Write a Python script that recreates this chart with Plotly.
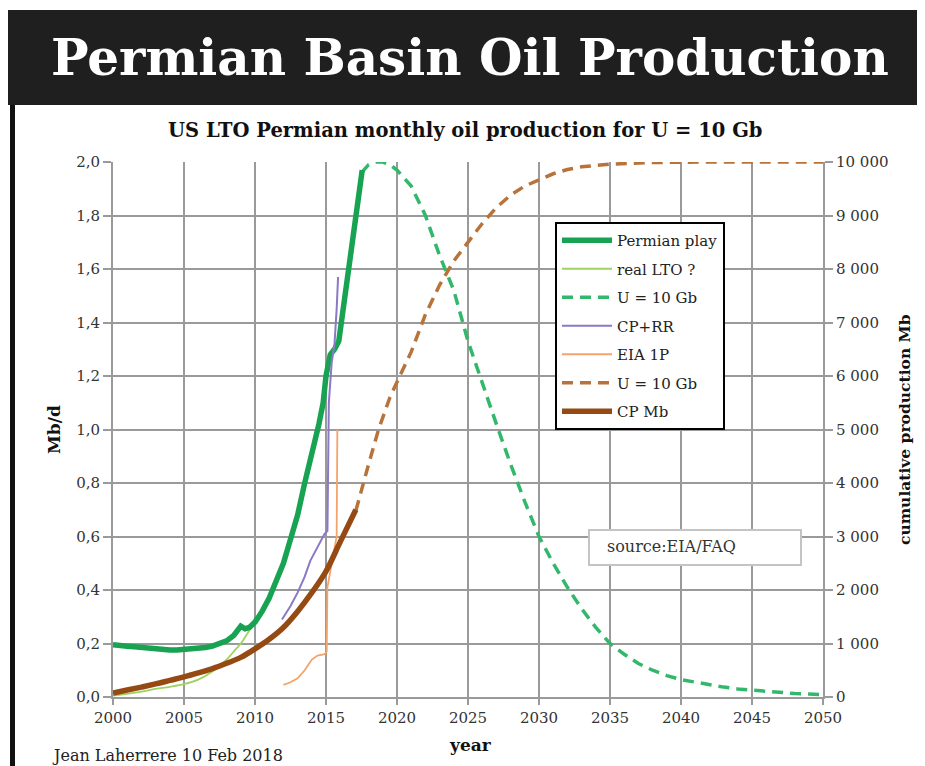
import plotly.graph_objects as go

# ---------------- data ----------------
permian_years = [2000.0, 2000.5, 2001.0, 2001.5, 2002.0, 2002.5, 2003.0, 2003.5, 2004.0, 2004.5,
                 2005.0, 2005.5, 2006.0, 2006.5, 2007.0, 2007.5, 2008.0, 2008.5, 2008.8, 2009.0,
                 2009.3, 2009.6, 2010.0, 2010.5, 2011.0, 2011.5, 2012.0, 2012.5, 2013.0, 2013.5,
                 2014.0, 2014.5, 2014.8, 2015.0, 2015.3, 2015.6, 2015.9, 2016.2, 2016.5, 2016.8,
                 2017.0, 2017.2, 2017.4, 2017.55]
permian_mbd = [0.195, 0.19, 0.19, 0.188, 0.185, 0.183, 0.18, 0.178, 0.176, 0.176,
               0.177, 0.178, 0.182, 0.185, 0.19, 0.2, 0.21, 0.23, 0.25, 0.265,
               0.255, 0.26, 0.28, 0.32, 0.37, 0.43, 0.5, 0.59, 0.68, 0.8,
               0.9, 1.02, 1.1, 1.2, 1.28, 1.3, 1.33, 1.45, 1.56, 1.66,
               1.75, 1.83, 1.9, 1.97]

lto_years = [2000, 2001, 2002, 2003, 2004, 2005, 2006, 2007, 2008, 2008.5, 2009, 2009.5, 2010, 2010.3]
lto_mbd = [0.005, 0.012, 0.02, 0.03, 0.038, 0.048, 0.065, 0.095, 0.14, 0.17, 0.2, 0.24, 0.28, 0.3]

model_years = [2017.5, 2018.0, 2018.5, 2019.0, 2019.5, 2020, 2021, 2022, 2023, 2024, 2025, 2026,
               2027, 2028, 2029, 2030, 2031, 2032, 2033, 2034, 2035, 2036, 2037, 2038, 2039,
               2040, 2041, 2042, 2043, 2044, 2045, 2046, 2047, 2048, 2049, 2050]
model_mbd = [1.96, 1.99, 2.0, 2.0, 1.99, 1.97, 1.91, 1.8, 1.65, 1.52, 1.33, 1.17,
             1.02, 0.87, 0.73, 0.6, 0.5, 0.41, 0.33, 0.26, 0.2, 0.16, 0.125, 0.1, 0.08,
             0.065, 0.055, 0.045, 0.037, 0.03, 0.025, 0.02, 0.016, 0.013, 0.011, 0.009]

cprr_years = [2011.9, 2012.5, 2013.0, 2013.5, 2013.9, 2014.4, 2014.9, 2015.1, 2015.2, 2015.4, 2015.6, 2015.75, 2015.85]
cprr_mbd = [0.29, 0.34, 0.39, 0.45, 0.51, 0.56, 0.61, 0.62, 1.1, 1.25, 1.32, 1.45, 1.57]

eia_years = [2012.0, 2012.5, 2013.0, 2013.5, 2014.0, 2014.4, 2014.9, 2015.05, 2015.1, 2015.75, 2015.8]
eia_mbd = [0.045, 0.055, 0.07, 0.1, 0.14, 0.155, 0.16, 0.17, 0.41, 0.6, 1.0]

cum_model_years = [2017.1, 2017.6, 2018.0, 2018.7, 2019.5, 2020.2, 2021.0, 2022.0, 2023.0, 2024.0,
                   2025.0, 2026.0, 2027.0, 2028.0, 2029.0, 2030.0, 2031.0, 2032.0, 2033.0, 2035.0,
                   2038.0, 2042.0, 2050.0]
cum_model_mb = [3480, 4000, 4350, 5000, 5600, 6000, 6450, 7150, 7700, 8150,
                8500, 8850, 9150, 9380, 9550, 9670, 9780, 9860, 9910, 9960,
                9990, 10000, 10000]

cp_years = [2000, 2001, 2002, 2003, 2004, 2005, 2006, 2007, 2008, 2009, 2010, 2011, 2012,
            2013, 2014, 2015, 2016, 2017.1]
cp_mb = [75, 130, 185, 245, 310, 375, 450, 530, 630, 740, 900, 1080, 1300,
         1600, 1950, 2350, 2900, 3500]

x_ticks = [2000, 2005, 2010, 2015, 2020, 2025, 2030, 2035, 2040, 2045, 2050]

# ---------------- layout geometry ----------------
# The page body has an 8px margin, so the figure is drawn 8px smaller and
# everything placed relative to the plot area (reference pixel coordinates).
OFF = 8
W, H = 925 - OFF, 766 - OFF
L, R, T, B = 113, 823, 162, 697   # plot area in reference pixels


def px(x):
    return (x - L) / (R - L)


def py(y):
    return (B - y) / (B - T)


SERIF = "DejaVu Serif"

fig = go.Figure()

DASH = "11px,7px"

fig.add_trace(go.Scatter(x=model_years, y=model_mbd, mode="lines", name="U = 10 Gb",
                         line=dict(color="#33b86b", width=3.5, dash=DASH),
                         legendgroup="g3", legendrank=3))
fig.add_trace(go.Scatter(x=cum_model_years, y=cum_model_mb, mode="lines", name="U = 10 Gb",
                         yaxis="y2", line=dict(color="#b8733a", width=3.5, dash=DASH),
                         legendgroup="g6", legendrank=6))
fig.add_trace(go.Scatter(x=cp_years, y=cp_mb, mode="lines", name="CP Mb", yaxis="y2",
                         line=dict(color="#954a14", width=5.5, shape="spline"),
                         legendgroup="g7", legendrank=7))
fig.add_trace(go.Scatter(x=lto_years, y=lto_mbd, mode="lines", name="real LTO ?",
                         line=dict(color="#9fd35f", width=1.8, shape="spline"),
                         legendgroup="g2", legendrank=2))
fig.add_trace(go.Scatter(x=permian_years, y=permian_mbd, mode="lines", name="Permian play",
                         line=dict(color="#18a352", width=5.5),
                         legendgroup="g1", legendrank=1))
fig.add_trace(go.Scatter(x=cprr_years, y=cprr_mbd, mode="lines", name="CP+RR",
                         line=dict(color="#8b78c6", width=2),
                         legendgroup="g4", legendrank=4))
fig.add_trace(go.Scatter(x=eia_years, y=eia_mbd, mode="lines", name="EIA 1P",
                         line=dict(color="#f4a36b", width=1.8),
                         legendgroup="g5", legendrank=5))

GRID = "#9a9a9a"
TICKFONT = dict(family=SERIF, size=15, color="#333333")

shapes = [
    # black header band
    dict(type="rect", xref="paper", yref="paper", x0=px(5), x1=px(940), y0=py(105), y1=py(10),
         fillcolor="#1f1f1f", line=dict(width=0), layer="above"),
    # left black border
    dict(type="rect", xref="paper", yref="paper", x0=px(10), x1=px(15), y0=py(780), y1=py(105),
         fillcolor="#111111", line=dict(width=0), layer="above"),
    # source box
    dict(type="rect", xref="paper", yref="paper", x0=px(589), x1=px(801), y0=py(565), y1=py(530),
         fillcolor="white", line=dict(color="#c4c4c4", width=2), layer="above"),
]

annotations = [
    dict(text="<b>Permian Basin Oil Production</b>", xref="paper", yref="paper",
         x=px(470), y=py(58), xanchor="center", yanchor="middle", showarrow=False,
         font=dict(family="DejaVu Serif", size=50, color="white")),
    dict(text="<b>US LTO Permian monthly oil production for U = 10 Gb</b>", xref="paper", yref="paper",
         x=px(465), y=py(131), xanchor="center", yanchor="middle", showarrow=False,
         font=dict(family=SERIF, size=19.5, color="#111111")),
    dict(text="<b>Mb/d</b>", xref="paper", yref="paper", x=px(54), y=py(430), textangle=-90,
         xanchor="center", yanchor="middle", showarrow=False,
         font=dict(family=SERIF, size=17, color="#111111")),
    dict(text="<b>cumulative production Mb</b>", xref="paper", yref="paper", x=px(904), y=py(430),
         textangle=-90, xanchor="center", yanchor="middle", showarrow=False,
         font=dict(family=SERIF, size=15.5, color="#111111")),
    dict(text="<b>year</b>", xref="paper", yref="paper", x=px(470), y=py(745),
         xanchor="center", yanchor="middle", showarrow=False,
         font=dict(family=SERIF, size=17, color="#111111")),
    dict(text="Jean Laherrere 10 Feb 2018", xref="paper", yref="paper", x=px(50), y=py(755),
         xanchor="left", yanchor="middle", showarrow=False,
         font=dict(family=SERIF, size=16, color="#222222")),
    dict(text="source:EIA/FAQ", xref="paper", yref="paper", x=px(605), y=py(546),
         xanchor="left", yanchor="middle", showarrow=False,
         font=dict(family=SERIF, size=16, color="#333333")),
]

fig.update_layout(
    width=W, height=H,
    margin=dict(l=L - OFF, r=W - (R - OFF), t=T - OFF, b=H - (B - OFF), pad=0),
    paper_bgcolor="white", plot_bgcolor="white",
    separators=", ",
    showlegend=True,
    legend=dict(x=px(555), y=py(222), xanchor="left", yanchor="top",
                bgcolor="white", bordercolor="black", borderwidth=2,
                font=dict(family=SERIF, size=15, color="#222222"),
                tracegroupgap=6, itemwidth=50),
    xaxis=dict(range=[2000, 2050], tickvals=x_ticks, ticktext=[str(v) for v in x_ticks],
               showgrid=True, gridcolor=GRID, gridwidth=2, zeroline=False,
               showline=True, linecolor=GRID, linewidth=2,
               ticks="outside", ticklen=6, tickcolor=GRID, tickwidth=2,
               tickfont=TICKFONT, fixedrange=True),
    yaxis=dict(range=[0, 2], dtick=0.2, tickformat=".1f",
               showgrid=True, gridcolor=GRID, gridwidth=2, zeroline=False,
               showline=True, linecolor=GRID, linewidth=2,
               ticks="outside", ticklen=8, tickcolor=GRID, tickwidth=2,
               tickfont=TICKFONT, fixedrange=True),
    yaxis2=dict(range=[0, 10000], dtick=1000, tickformat=",d", overlaying="y", side="right",
                showgrid=False, zeroline=False,
                showline=True, linecolor=GRID, linewidth=2,
                ticks="outside", ticklen=8, tickcolor=GRID, tickwidth=2,
                tickfont=TICKFONT, fixedrange=True),
    shapes=shapes,
    annotations=annotations,
)

fig.write_html("out.html")
